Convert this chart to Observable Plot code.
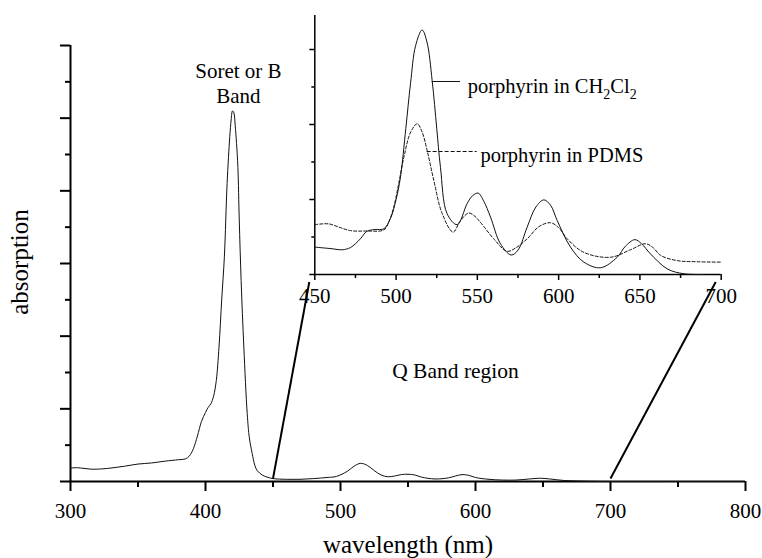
<!DOCTYPE html>
<html><head><meta charset="utf-8">
<script src="https://cdn.jsdelivr.net/npm/d3@7"></script>
<script src="https://cdn.jsdelivr.net/npm/@observablehq/plot@0.6"></script>
<style>
body{margin:0;background:#fff}
#wrap{position:relative;width:762px;height:558px;overflow:hidden}
#wrap svg{position:absolute;left:0;top:0}
#wrap svg text{font-family:'Liberation Serif','Times New Roman',Times,serif}
</style></head><body><div id="wrap"></div>
<script>
// ---- data ----
const mainWavelength = [300,305,310,315,320,330,340,350,360,370,380,385,388,391,394,397,400,402,404,406,408,410,412,414,416,418,419,420,421,422,423,424,425,426.4,428.4,430.9,432.5,434.6,436.5,438.3,442,445.7,450,460,470,480,490,497,505,510,515,520,525,530,535,540,545,550,555,560,570,580,585,590,595,600,610,620,630,640,648,655,665,680,700,750,800];
const mainAbsorption = [0.037,0.038,0.036,0.034,0.034,0.037,0.042,0.048,0.051,0.056,0.06,0.062,0.07,0.09,0.125,0.165,0.19,0.204,0.214,0.235,0.278,0.37,0.50,0.62,0.82,0.95,0.995,1.02,1.015,0.98,0.93,0.864,0.72,0.553,0.37,0.187,0.12,0.077,0.045,0.03,0.018,0.012,0.008,0.006,0.006,0.008,0.011,0.014,0.028,0.042,0.05,0.044,0.03,0.018,0.013,0.015,0.019,0.02,0.018,0.012,0.007,0.01,0.015,0.019,0.017,0.011,0.006,0.004,0.004,0.007,0.009,0.007,0.003,0.001,0,0,0];

const ch2cl2Wavelength = [450,460,467,472,478,482,487,492.5,496.6,500,502.7,506,508.9,512,516,519,522.2,525,527.3,531.4,537.6,543.7,547,550.5,554,558.1,564.2,570.8,575,580.6,586,590.9,595,599.1,607.3,615.5,625.8,636,641,646.9,651,656.5,666.8,677,690];
const ch2cl2Absorption = [0.073,0.069,0.066,0.072,0.095,0.115,0.12,0.122,0.15,0.20,0.26,0.39,0.51,0.61,0.652,0.62,0.517,0.39,0.286,0.162,0.133,0.189,0.21,0.217,0.195,0.153,0.082,0.052,0.065,0.126,0.18,0.199,0.185,0.144,0.073,0.033,0.018,0.046,0.075,0.093,0.082,0.055,0.015,0.002,0];

const pdmsWavelength = [450,458.6,465,472,482,492.5,495.5,498.6,501.5,504.8,509,513,516,519.1,523.2,528.4,535.1,539.6,544.7,548,551.9,560.1,568.3,574,580.6,588,595,600,605.3,615.5,631.9,644.2,653.4,658,662.7,673,685,700];
const pdmsAbsorption = [0.133,0.135,0.126,0.117,0.116,0.119,0.14,0.18,0.24,0.313,0.38,0.402,0.38,0.331,0.251,0.162,0.113,0.144,0.164,0.157,0.139,0.095,0.062,0.072,0.095,0.128,0.138,0.125,0.095,0.059,0.046,0.066,0.082,0.072,0.051,0.037,0.034,0.033];

const mainXTicks = [300,400,500,600,700,800];
const mainXMinor = [350,450,550,650,750];
const mainYTicks = [0,0.2,0.4,0.6,0.8,1.0,1.2];
const mainYMinor = [0.1,0.3,0.5,0.7,0.9,1.1];
const insetXTicks = [450,500,550,600,650,700];
const insetXMinor = [475,525,575,625,675];
const insetYTicks = [0,0.2,0.4,0.6];
const insetYMinor = [0.1,0.3,0.5];
const zoomRange = [450,700];
const seriesNames = ["porphyrin in CH2Cl2","porphyrin in PDMS"];
const annotations = ["Soret or B\nBand","Q Band region"];
const axisTitles = ["wavelength (nm)","absorption"];

// ---- tables ----
const mainData = mainWavelength.map((w,i)=>({w, a: mainAbsorption[i]}));
const ch2cl2Data = ch2cl2Wavelength.map((w,i)=>({w, a: ch2cl2Absorption[i]}));
const pdmsData = pdmsWavelength.map((w,i)=>({w, a: pdmsAbsorption[i]}));

const W = 762, H = 558;
const FONT = "'Liberation Serif','Times New Roman',Times,serif";

// ---- inset ----
const inset = Plot.plot({
  width: W, height: H,
  marginLeft: 314.3, marginRight: 41.3, marginTop: 15, marginBottom: 284,
  style: {background: "transparent", fontFamily: FONT, fontSize: "21px", color: "#000", overflow: "visible"},
  x: {domain: [450, 700]},
  y: {domain: [0, 0.6907]},
  marks: [
    Plot.axisX({ticks: insetXTicks, tickSize: 6, tickPadding: 8, strokeWidth: 1.5, fontSize: 21, fontFamily: FONT, fontVariant: "normal", label: null}),
    Plot.axisX({ticks: insetXMinor, tickSize: 4, strokeWidth: 1.5, text: null, label: null}),
    Plot.axisY({ticks: insetYTicks, tickSize: 5, strokeWidth: 1.5, text: null, label: null}),
    Plot.axisY({ticks: insetYMinor, tickSize: 3, strokeWidth: 1.5, text: null, label: null}),
    Plot.ruleY([0], {strokeWidth: 1.5}),
    Plot.ruleX([450], {y1: 0, y2: 0.6907, strokeWidth: 1.5}),
    Plot.line(ch2cl2Data, {x: "w", y: "a", stroke: "#111", strokeWidth: 1, curve: "catmull-rom"}),
    Plot.line(pdmsData, {x: "w", y: "a", stroke: "#111", strokeWidth: 1, strokeDasharray: "3,2", curve: "catmull-rom"}),
    Plot.ruleY([0.5147], {x1: 522.2, x2: 539.6, stroke: "#111", strokeWidth: 1}),
    Plot.ruleY([0.328], {x1: 519.1, x2: 549.9, stroke: "#111", strokeWidth: 1, strokeDasharray: "4,2"}),
    Plot.text([seriesNames[0]], {x: 544.1, y: 0.4845, text: d => d, textAnchor: "start", lineAnchor: "bottom", fontSize: 20.5, fontFamily: FONT}),
    Plot.text([seriesNames[1]], {x: 551.9, y: 0.2995, text: d => d, textAnchor: "start", lineAnchor: "bottom", fontSize: 20.5, fontFamily: FONT})
  ]
});

// subscripts for CH2Cl2
d3.select(inset).selectAll("text").each(function(){
  if (this.textContent === seriesNames[0]) {
    const t = d3.select(this);
    t.text(null);
    t.append("tspan").text("porphyrin in CH");
    t.append("tspan").attr("dy", 6).attr("font-size", 14).text("2");
    t.append("tspan").attr("dy", -6).text("Cl");
    t.append("tspan").attr("dy", 6).attr("font-size", 14).text("2");
  }
});

const ix = inset.scale("x"), iy = inset.scale("y");

// ---- main ----
function makeMain(extra) {
  return Plot.plot({
    width: W, height: H,
    marginLeft: 70, marginRight: 17, marginTop: 45, marginBottom: 77,
    style: {background: "#fff", fontFamily: FONT, fontSize: "21px", color: "#000"},
    x: {domain: [300, 800]},
    y: {domain: [0, 1.2]},
    marks: [
      Plot.axisX({ticks: mainXTicks, tickSize: 10, tickPadding: 12, strokeWidth: 2, fontSize: 21, fontFamily: FONT, fontVariant: "normal", label: null}),
      Plot.axisX({ticks: mainXMinor, tickSize: 6, strokeWidth: 2, text: null, label: null}),
      Plot.axisY({ticks: mainYTicks, tickSize: 10, strokeWidth: 2, text: null, label: null}),
      Plot.axisY({ticks: mainYMinor, tickSize: 5, strokeWidth: 2, text: null, label: null}),
      Plot.ruleY([0], {strokeWidth: 2}),
      Plot.ruleX([300], {y1: 0, y2: 1.2, strokeWidth: 2}),
      Plot.line(mainData, {x: "w", y: "a", stroke: "#111", strokeWidth: 1, curve: "catmull-rom"}),
      Plot.text([annotations[0]], {x: 424.4, y: 1.0431, text: d => d, textAnchor: "middle", lineAnchor: "bottom", lineHeight: 1.19, fontSize: 21, fontFamily: FONT}),
      Plot.text([annotations[1]], {x: 585.2, y: 0.2843, text: d => d, textAnchor: "middle", lineAnchor: "bottom", fontSize: 21.5, fontFamily: FONT}),
      Plot.text([axisTitles[0]], {frameAnchor: "bottom", dy: 71, text: d => d, textAnchor: "middle", lineAnchor: "bottom", fontSize: 25, fontFamily: FONT}),
      Plot.text([axisTitles[1]], {frameAnchor: "left", dx: -43, dy: -1.5, rotate: -90, text: d => d, textAnchor: "middle", lineAnchor: "bottom", fontSize: 25, fontFamily: FONT}),
      ...extra
    ]
  });
}
const draft = makeMain([]);
const mx = draft.scale("x"), my = draft.scale("y");
const connectors = zoomRange.map(w => ({
  x1: w, y1: 0.008,
  x2: mx.invert(ix.apply(w) - 5.5),
  y2: my.invert(iy.apply(0) + 7.5)
}));
const main = makeMain([
  Plot.link(connectors, {x1: "x1", y1: "y1", x2: "x2", y2: "y2", stroke: "#000", strokeWidth: 2})
]);

const wrap = document.getElementById("wrap");
wrap.appendChild(main);
wrap.appendChild(inset);
</script>
</body></html>
